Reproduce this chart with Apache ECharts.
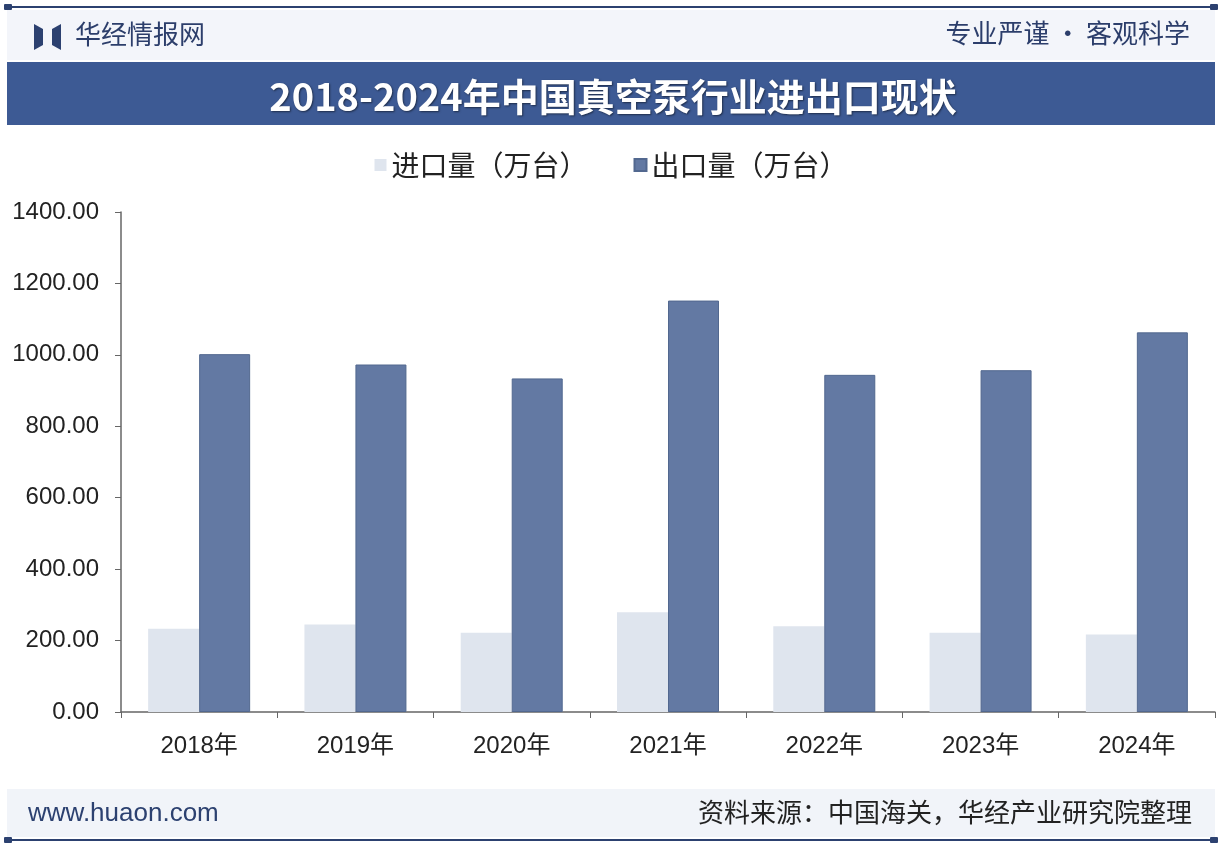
<!DOCTYPE html>
<html><head><meta charset="utf-8">
<script src="https://cdn.jsdelivr.net/npm/echarts@6/dist/echarts.min.js"></script>
<style>html,body{margin:0;padding:0;background:#fff}#c{width:1222px;height:850px}</style>
</head><body><div id="c"></div>
<script>
const categories = ['2018年','2019年','2020年','2021年','2022年','2023年','2024年'];
const importVals = [233, 245, 222, 279, 240, 222, 217];
const exportVals = [1002, 973, 934, 1152, 944, 957, 1063];
const seriesNames = ['进口量（万台）','出口量（万台）'];
const titleText = '2018-2024年中国真空泵行业进出口现状';

const F = '"Noto Sans CJK SC","Noto Sans",sans-serif';
const N = '"Liberation Sans","Noto Sans CJK SC",sans-serif';
const chart = echarts.init(document.getElementById('c'));
chart.setOption({
  backgroundColor:'#fff',
  animation:false,
  graphic:[
    {type:'rect',shape:{x:7,y:10,width:1208,height:50},style:{fill:'#f3f5fa'}},
    {type:'rect',shape:{x:7,y:6,width:1208,height:2},style:{fill:'#2c4170'}},
    {type:'rect',shape:{x:4,y:4,width:8,height:6,r:1},style:{fill:'#2c4170'}},
    {type:'rect',shape:{x:1210,y:4,width:8,height:6,r:1},style:{fill:'#2c4170'}},
    {type:'polygon',shape:{points:[[34,24],[43,29],[43,45],[34,50]]},style:{fill:'#2c4170'}},
    {type:'polygon',shape:{points:[[61,24],[52,29],[52,45],[61,50]]},style:{fill:'#2c4170'}},
    {type:'text',left:75,top:21,style:{text:'华经情报网',font:'26px '+F,fill:'#2c3e6b'}},
    {type:'text',right:32,top:20,style:{text:'专业严谨\u2009•\u2009客观科学',font:'26px '+F,fill:'#2c3e6b'}},
    {type:'rect',shape:{x:7,y:62,width:1208,height:63},style:{fill:'#3d5a94'}},
    {type:'text',x:613,y:97,style:{text:titleText,font:'bold 38px '+F,fill:'#fff',align:'center',verticalAlign:'middle',textShadowColor:'rgba(0,0,0,0.5)',textShadowBlur:2,textShadowOffsetX:1,textShadowOffsetY:1}},
    {type:'rect',shape:{x:7,y:789,width:1208,height:48},style:{fill:'#f1f4f9'}},
    {type:'text',left:28,top:801,style:{text:'www.huaon.com',font:'26px '+N,fill:'#2c4170'}},
    {type:'text',right:30,top:799,style:{text:'资料来源：中国海关，华经产业研究院整理',font:'26px '+F,fill:'#222'}},
    {type:'rect',shape:{x:7,y:839,width:1208,height:2},style:{fill:'#2c4170'}},
    {type:'rect',shape:{x:4,y:837,width:8,height:6,r:1},style:{fill:'#2c4170'}},
    {type:'rect',shape:{x:1210,y:837,width:8,height:6,r:1},style:{fill:'#2c4170'}}
  ],
  legend:{
    top:146,left:'center',itemWidth:12,itemHeight:12,itemGap:46,icon:'rect',
    textStyle:{fontSize:28,color:'#222',fontFamily:F},
    data:seriesNames
  },
  grid:{left:121,right:7,top:212,bottom:138,containLabel:false},
  xAxis:{
    type:'category',data:categories,
    axisLine:{lineStyle:{color:'#666',width:1.5}},
    axisTick:{show:true,length:6,lineStyle:{color:'#666'}},
    axisLabel:{fontSize:24,color:'#222',margin:22,fontFamily:N}
  },
  yAxis:{
    type:'value',min:0,max:1400,interval:200,
    axisLine:{show:true,lineStyle:{color:'#666',width:1.5}},
    axisTick:{show:true,length:6,lineStyle:{color:'#666'}},
    splitLine:{show:false},
    axisLabel:{fontSize:24,color:'#222',margin:22,fontFamily:N,formatter:v=>v.toFixed(2)}
  },
  series:[
    {name:seriesNames[0],type:'bar',data:importVals,barWidth:51,barGap:'0%',itemStyle:{color:'#dfe5ee'}},
    {name:seriesNames[1],type:'bar',data:exportVals,barWidth:51,itemStyle:{color:'#6379a3',borderColor:'#52688f',borderWidth:1}}
  ]
});
</script></body></html>
